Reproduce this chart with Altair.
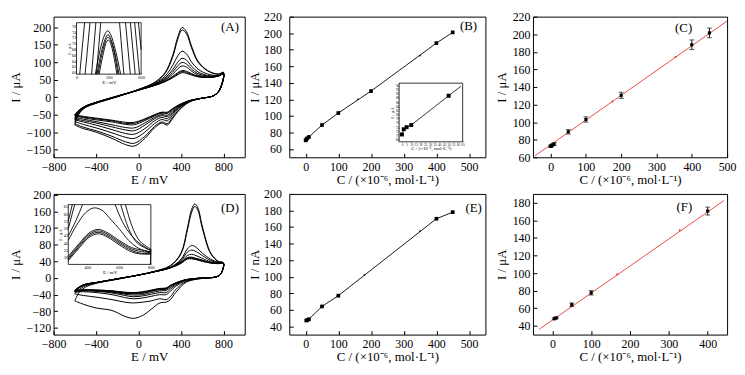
import altair as alt
import pandas as pd

FONT = "Liberation Serif, Times New Roman, serif"
RED = "#e23b35"

# ---------------- Panel A : cyclic voltammograms ----------------
EF_A = [-600, -560, -500, -400, -200, 0, 150, 250, 320, 370, 410, 450, 500, 560, 650, 750, 800]
ER_A = [800, 760, 700, 600, 480, 380, 320, 270, 220, 150, 60, -40, -120, -250, -400, -520, -600]
IF_A = [
    [-50, -37, -26, -15, 3, 20, 33, 44, 55, 64, 70, 68, 63, 58, 56, 60, 66],
    [-52, -37, -26, -15, 3, 20, 33, 45, 57, 67, 73, 71, 65, 59, 56, 60, 66],
    [-54, -38, -26, -15, 3, 20, 34, 46, 59, 70, 76, 74, 67, 60, 57, 60, 66],
    [-58, -40, -26, -15, 2, 20, 35, 49, 65, 81, 89, 86, 74, 63, 58, 60, 66],
    [-62, -41, -27, -16, 2, 20, 36, 52, 71, 90, 99, 95, 80, 67, 60, 61, 67],
    [-65, -42, -27, -16, 2, 21, 37, 55, 78, 100, 111, 106, 88, 72, 62, 61, 67],
    [-70, -44, -28, -16, 2, 21, 39, 60, 90, 118, 131, 124, 100, 80, 66, 62, 68],
    [-76, -46, -29, -17, 1, 22, 41, 68, 113, 166, 192, 182, 140, 100, 75, 65, 70],
    [-80, -48, -30, -18, 1, 22, 42, 70, 118, 172, 199, 188, 145, 103, 76, 66, 71],
]
IR_A = [
    [66, 18, 3, -3, -10, -22, -33, -43, -43, -50, -62, -72, -72, -66, -60, -55, -50],
    [66, 18, 3, -3, -10, -23, -34, -45, -44, -52, -64, -75, -75, -68, -62, -57, -52],
    [66, 18, 3, -3, -10, -24, -36, -47, -46, -54, -67, -79, -78, -71, -65, -59, -54],
    [66, 18, 3, -3, -11, -26, -40, -52, -50, -58, -74, -88, -87, -79, -70, -63, -58],
    [67, 18, 3, -3, -11, -28, -43, -56, -53, -62, -80, -96, -94, -85, -74, -67, -62],
    [67, 19, 3, -3, -12, -30, -47, -62, -58, -68, -90, -106, -104, -93, -80, -71, -65],
    [68, 19, 3, -3, -12, -32, -52, -68, -64, -76, -100, -118, -115, -102, -88, -78, -70],
    [70, 20, 3, -3, -13, -36, -58, -76, -71, -84, -112, -132, -128, -112, -96, -86, -76],
    [71, 20, 3, -3, -14, -38, -62, -80, -74, -88, -118, -140, -136, -118, -100, -90, -80],
]
# inset of A : line segments (E, I)
INS_A_E = [[30, 75], [80, 125], [140, 180], [185, 225],
           [175, 220, 260, 290, 320, 360, 410],
           [190, 230, 265, 292, 320, 355, 395],
           [200, 240, 270, 293, 318, 350, 385],
           [210, 245, 272, 295, 318, 345, 375],
           [400, 440], [455, 500], [500, 545], [540, 585], [575, 600]]
INS_A_I = [[59.5, 77.3], [59.5, 77.3], [59.5, 77.3], [59.5, 77.3],
           [59.5, 68, 73, 74.5, 73, 68, 59.5],
           [59.5, 67, 71.5, 73.2, 71.5, 67, 59.5],
           [59.5, 67, 71, 72.3, 71, 67, 59.5],
           [59.5, 66, 70, 71.3, 70, 66, 59.5],
           [77.3, 59.5], [77.3, 59.5], [77.3, 59.5], [77.3, 59.5], [77.3, 68]]

# ---------------- Panel D : cyclic voltammograms ----------------
EF_D = [-600, -560, -500, -400, -200, 0, 150, 300, 400, 460, 500, 530, 560, 600, 680, 750, 800]
ER_D = [800, 770, 720, 600, 450, 350, 300, 260, 200, 120, 40, -50, -130, -250, -400, -520, -600]
IF_D = [
    [-30, -22, -15, -11, -2, 7, 15, 24, 35, 45.5, 46, 45, 43, 40, 36, 34.5, 35],
    [-30, -22, -15, -11, -2, 7, 15, 25, 36, 46.5, 47, 45.5, 44, 41, 36, 34.5, 35],
    [-31, -22, -15, -11, -2, 7, 15, 25, 37, 48, 48.5, 47, 45, 42, 37, 35, 35],
    [-31, -22, -15, -11, -2, 7, 15, 25, 38, 49, 50, 48, 46, 43, 37, 35, 35],
    [-32, -23, -16, -11, -2, 7, 15, 25, 40, 54, 57, 55, 52, 47, 39, 36, 35],
    [-33, -23, -16, -11, -2, 7, 15, 25, 42, 62, 67, 65, 61, 54, 42, 37, 35],
    [-34, -24, -16, -11, -2, 7, 15, 26, 45, 70, 78, 76, 70, 60, 45, 38, 36],
    [-38, -28, -19, -12, -3, 7, 16, 29, 58, 115, 158, 172, 162, 120, 58, 40, 36],
    [-55, -35, -22, -13, -3, 7, 16, 30, 60, 120, 165, 178, 168, 125, 60, 40, 36],
]
IR_D = [
    [35, 8, 2, 0, -4, -12, -18, -24, -25, -29, -33, -35, -34, -31, -29, -29, -30],
    [35, 8, 2, 0, -4, -12, -18, -25, -26, -30, -34, -36, -35, -31, -29, -29, -30],
    [35, 8, 2, 0, -4, -12, -19, -26, -27, -31, -35, -37, -36, -32, -30, -29, -31],
    [35, 8, 2, 0, -4, -13, -20, -27, -28, -32, -37, -38, -37, -33, -30, -29, -31],
    [35, 8, 2, 0, -5, -15, -23, -30, -31, -35, -40, -41, -39, -34, -31, -30, -32],
    [35, 8, 2, 0, -5, -17, -27, -35, -35, -39, -43, -45, -42, -36, -32, -31, -33],
    [36, 8, 2, 0, -6, -20, -32, -40, -40, -44, -48, -50, -47, -40, -35, -33, -34],
    [36, 8, 2, -1, -8, -28, -45, -52, -50, -55, -58, -60, -58, -52, -46, -42, -38],
    [36, 8, 2, -1, -10, -35, -52, -58, -60, -75, -90, -97, -92, -78, -72, -63, -55],
]
INS_D_E = [[280, 330, 390, 446, 500, 550, 600, 660, 724, 800],
           [280, 320], [280, 305], [280, 330, 370],
           [575, 620, 680, 740, 800], [610, 660, 700, 760, 800], [640, 680, 720, 770, 800],
           [280, 350, 410, 470, 530, 600, 680, 760, 800],
           [280, 350, 410, 470, 530, 600, 680, 760, 800],
           [280, 350, 410, 470, 530, 600, 680, 760, 800],
           [280, 350, 410, 470, 530, 600, 680, 760, 800],
           [797, 800]]
INS_D_I = [[42, 52, 61, 64.3, 62, 56, 50, 42, 36.5, 34],
           [50, 66.5], [55, 66.5], [45, 56, 66.5],
           [66.5, 55, 45, 39, 35], [66.5, 50, 42, 37, 35], [66.5, 52, 43, 38, 36],
           [31, 40, 47, 49.5, 47, 42, 37, 35, 34],
           [30, 39, 46, 48.5, 46, 41, 36, 34, 33.5],
           [29, 38, 45, 47.5, 45, 40, 35, 33, 33],
           [28, 37, 44, 46.5, 44, 39, 34, 32.5, 32.5],
           [25.5, 36]]

# ---------------- Panels B, C (calibration, sample 1) ----------------
C_B = [0, 2, 5, 10, 50, 100, 200, 400, 450]
I_B = [70.5, 71.5, 73, 74.5, 89, 103.5, 130, 188, 201]
DOT_B_C = [160, 350]
DOT_B_I = [120, 173]
INS_B_C = [0, 2, 5, 10, 50]
INS_B_I = [70.5, 73, 74, 75, 89]
INS_B_LINE_C = [0, 2, 5, 10, 50, 63]
INS_B_LINE_I = [70.5, 73, 74, 75, 89, 93.5]

C_C = [0, 2, 5, 10, 50, 100, 200, 400, 450]
I_C = [72.5, 73, 74, 75, 89, 103, 130.5, 188, 201.5]
ERR_C = [1.2, 1, 1, 1.5, 2.5, 3, 3.5, 5.5, 5.5]
FIT_C_X = [-45, 500]
FIT_C_Y = [61.5, 215]
DOT_C_X = [175, 354]
DOT_C_Y = [123.5, 174]

# ---------------- Panels E, F (calibration, sample 2) ----------------
C_E = [2, 5, 10, 50, 100, 400, 450]
I_E = [47, 47.5, 48.5, 64, 77, 170, 178]
DOT_E_C = [180, 350]
DOT_E_I = [102, 155]

C_F = [5, 10, 50, 100, 400]
I_F = [48, 49, 64, 77.5, 170.5]
ERR_F = [1, 1, 2, 2.5, 4.5]
FIT_F_X = [-34, 442]
FIT_F_Y = [36, 182.5]
DOT_F_X = [167, 328]
DOT_F_Y = [98.7, 148.8]

CTITLE = "C / (×10⁻⁶, mol·L⁻¹)"

# ---------------- layout constants ----------------
W1, W2, W3 = 193, 198, 196
H = 142


def cv_df(EF, ER, IF, IR):
    rows = []
    for c in range(len(IF)):
        k = 0
        for e, i in zip(EF, IF[c]):
            rows.append(dict(curve=c, k=k, E=e, I=i))
            k += 1
        for e, i in zip(ER[1:], IR[c][1:]):
            rows.append(dict(curve=c, k=k, E=e, I=i))
            k += 1
    return pd.DataFrame(rows)


def seg_df(EE, II):
    rows = []
    for s, (es, is_) in enumerate(zip(EE, II)):
        for e, i in zip(es, is_):
            rows.append(dict(seg=s, E=e, I=i))
    return pd.DataFrame(rows)


def main_axis(values, title, lpad, tpad):
    return alt.Axis(values=values, title=title, offset=-4, tickSize=4, domain=False, grid=False,
                    labelPadding=lpad, titlePadding=tpad, labelFlush=False, labelOverlap=False,
                    labelFont=FONT, titleFont=FONT, labelFontSize=12, titleFontSize=13,
                    titleFontWeight="normal", labelColor="black", titleColor="black",
                    tickColor="black", tickWidth=1)


def tag(s, fx, fy, W):
    return alt.Chart(pd.DataFrame({"t": [s]})).mark_text(
        font=FONT, fontSize=13, align="center", baseline="middle", color="black"
    ).encode(text="t:N", x=alt.value(fx * W), y=alt.value(fy * H))


def inset_scales(xdom, ydom, fx, fy, W, xvals, yvals, xtitle, ytitle, lfs=4.5):
    xs = alt.Scale(domain=xdom, range=[fx[0] * W, fx[1] * W], nice=False, zero=False)
    ys = alt.Scale(domain=ydom, range=[fy[1] * H, fy[0] * H], nice=False, zero=False)
    common = dict(domain=False, grid=False, tickSize=1.5, labelPadding=0.5, titlePadding=0.5,
                  labelFlush=False, labelOverlap=False, labelFont=FONT, titleFont=FONT,
                  labelFontSize=lfs, titleFontSize=5, titleFontWeight="normal",
                  labelColor="black", titleColor="black", tickColor="black", tickWidth=0.5)
    xa = alt.Axis(orient="bottom", offset=-(H - fy[1] * H) - 1.5, values=xvals, title=xtitle, **common)
    ya = alt.Axis(orient="left", offset=-(fx[0] * W) - 1.5, values=yvals, title=ytitle, **common)
    X = alt.X("E:Q", scale=xs, axis=xa)
    Y = alt.Y("I:Q", scale=ys, axis=ya)
    box_df = pd.DataFrame({"E": [xdom[0]], "E2": [xdom[1]], "I": [ydom[0]], "I2": [ydom[1]]})
    box = alt.Chart(box_df).mark_rect(fill="white", stroke="black", strokeWidth=0.8).encode(
        x=X, x2="E2:Q", y=Y, y2="I2:Q")
    return X, Y, box


def cv_panel(EF, ER, IF, IR, ydom, yvals, label, lab_pos, W, ins_E, ins_I, ins_dom, ins_f, ins_vals, inset_ytitle):
    X = alt.X("E:Q", scale=alt.Scale(domain=[-800, 1000], nice=False, zero=False),
              axis=main_axis([-800, -400, 0, 400, 800], "E / mV", 4, 1))
    Y = alt.Y("I:Q", scale=alt.Scale(domain=ydom, nice=False, zero=False),
              axis=main_axis(yvals, "I / μA", 3, 4))
    cv = alt.Chart(cv_df(EF, ER, IF, IR)).mark_line(
        color="black", strokeWidth=1.0, interpolate="catmull-rom"
    ).encode(x=X, y=Y, detail="curve:N", order="k:Q")
    main = alt.layer(cv, tag(label, lab_pos[0], lab_pos[1], W))
    iX, iY, box = inset_scales(ins_dom[0], ins_dom[1], ins_f[0], ins_f[1], W,
                               ins_vals[0], ins_vals[1], "E / mV", inset_ytitle)
    lines = alt.Chart(seg_df(ins_E, ins_I)).mark_line(
        color="black", strokeWidth=0.9, interpolate="monotone"
    ).encode(x=iX, y=iY, detail="seg:N")
    ins = alt.layer(box, lines)
    return alt.layer(main, ins).resolve_scale(x="independent", y="independent").properties(width=W, height=H)


def line_panel(Cs, Is, dotC, dotI, xdom, xvals, ydom, yvals, ytitle, label, lab_pos, W, lpad, tpad):
    X = alt.X("C:Q", scale=alt.Scale(domain=xdom, nice=False, zero=False),
              axis=main_axis(xvals, CTITLE, 4, 1))
    Y = alt.Y("I:Q", scale=alt.Scale(domain=ydom, nice=False, zero=False),
              axis=main_axis(yvals, ytitle, lpad, tpad))
    df = pd.DataFrame({"C": Cs, "I": Is})
    ln = alt.Chart(df).mark_line(color="black", strokeWidth=0.9).encode(x=X, y=Y)
    pts = alt.Chart(df).mark_square(color="black", size=14, opacity=1).encode(x=X, y=Y)
    dots = alt.Chart(pd.DataFrame({"C": dotC, "I": dotI})).mark_circle(
        color="black", size=3, opacity=1).encode(x=X, y=Y)
    return alt.layer(ln, dots, pts, tag(label, lab_pos[0], lab_pos[1], W))


def fit_panel(Cs, Is, errs, fx, fy, dx, dy, xdom, xvals, ydom, yvals, label, lab_pos, W, lpad, tpad):
    X = alt.X("C:Q", scale=alt.Scale(domain=xdom, nice=False, zero=False),
              axis=main_axis(xvals, CTITLE, 4, 1))
    ysc = alt.Scale(domain=ydom, nice=False, zero=False)
    yax = main_axis(yvals, "I / μA", lpad, tpad)
    Y = alt.Y("I:Q", scale=ysc, axis=yax)
    df = pd.DataFrame({"C": Cs, "I": Is, "err": errs})
    df["lo"] = df["I"] - df["err"]
    df["hi"] = df["I"] + df["err"]
    fit = alt.Chart(pd.DataFrame({"C": fx, "I": fy})).mark_line(color=RED, strokeWidth=0.9).encode(x=X, y=Y)
    rdots = alt.Chart(pd.DataFrame({"C": dx, "I": dy})).mark_circle(color=RED, size=4, opacity=1).encode(x=X, y=Y)
    rule = alt.Chart(df).mark_rule(color="black", strokeWidth=0.9).encode(
        x=X, y=alt.Y("lo:Q", scale=ysc, axis=yax), y2="hi:Q")
    cap_lo = alt.Chart(df).mark_tick(color="black", orient="horizontal", size=5, thickness=0.9).encode(
        x=X, y=alt.Y("lo:Q", scale=ysc, axis=yax))
    cap_hi = alt.Chart(df).mark_tick(color="black", orient="horizontal", size=5, thickness=0.9).encode(
        x=X, y=alt.Y("hi:Q", scale=ysc, axis=yax))
    pts = alt.Chart(df).mark_square(color="black", size=10, opacity=1).encode(x=X, y=Y)
    return alt.layer(fit, rdots, rule, cap_lo, cap_hi, pts, tag(label, lab_pos[0], lab_pos[1], W)).properties(
        width=W, height=H)


# ---- Panel A
A = cv_panel(EF_A, ER_A, IF_A, IR_A, [-172, 230], [-150, -100, -50, 0, 50, 100, 150, 200],
             "(A)", (0.923, 0.075), W1, INS_A_E, INS_A_I, ([0, 600], [59.5, 77.3]),
             ((0.12, 0.458), (0.043, 0.409)), ([0, 300, 600], [60, 62, 64, 66, 68, 70, 72, 74, 76]),
             "I / μA")

# ---- Panel B (with inset)
Bmain = line_panel(C_B, I_B, DOT_B_C, DOT_B_I, [-50, 550], [0, 100, 200, 300, 400, 500],
                   [50, 220], [60, 80, 100, 120, 140, 160, 180, 200, 220], "I / μA",
                   "(B)", (0.914, 0.068), W2, 8, 2)
bX, bY, bbox = inset_scales([-3, 65], [67, 95], (0.56, 0.884), (0.473, 0.89), W2,
                            [0, 5, 10, 15, 20, 25, 30, 35, 40, 45, 50, 55, 60, 65],
                            [68, 70, 72, 74, 76, 78, 80, 82, 84, 86, 88, 90, 92, 94],
                            CTITLE, "I / μA", lfs=3.2)
bline = alt.Chart(pd.DataFrame({"E": INS_B_LINE_C, "I": INS_B_LINE_I})).mark_line(
    color="black", strokeWidth=0.8).encode(x=bX, y=bY)
bpts = alt.Chart(pd.DataFrame({"E": INS_B_C, "I": INS_B_I})).mark_square(
    color="black", size=16, opacity=1).encode(x=bX, y=bY)
B = alt.layer(Bmain, alt.layer(bbox, bline, bpts)).resolve_scale(
    x="independent", y="independent").properties(width=W2, height=H)

# ---- Panel C
C = fit_panel(C_C, I_C, ERR_C, FIT_C_X, FIT_C_Y, DOT_C_X, DOT_C_Y, [-50, 500],
              [0, 100, 200, 300, 400, 500], [60, 220], [60, 80, 100, 120, 140, 160, 180, 200, 220],
              "(C)", (0.776, 0.082), W3, 3, 4)

# ---- Panel D
D = cv_panel(EF_D, ER_D, IF_D, IR_D, [-136, 202], [-120, -80, -40, 0, 40, 80, 120, 160, 200],
             "(D)", (0.923, 0.097), W1, INS_D_E, INS_D_I, ([280, 800], [25.5, 66.5]),
             ((0.077, 0.509), (0.076, 0.501)), ([400, 600, 800], [30, 35, 40, 45, 50, 55, 60, 65]),
             "I / μA")

# ---- Panel E
E = line_panel(C_E, I_E, DOT_E_C, DOT_E_I, [-50, 550], [0, 100, 200, 300, 400, 500],
               [30, 200], [40, 60, 80, 100, 120, 140, 160, 180, 200], "I / nA",
               "(E)", (0.94, 0.097), W2, 8, 2).properties(width=W2, height=H)

# ---- Panel F
F = fit_panel(C_F, I_F, ERR_F, FIT_F_X, FIT_F_Y, DOT_F_X, DOT_F_Y, [-50, 450],
              [0, 100, 200, 300, 400], [30, 190], [40, 60, 80, 100, 120, 140, 160, 180],
              "(F)", (0.78, 0.09), W3, 3, 4)

row1 = alt.hconcat(alt.hconcat(A, B, spacing=2), C, spacing=8)
row2 = alt.hconcat(alt.hconcat(D, E, spacing=2), F, spacing=8)

chart = alt.vconcat(row1, row2, spacing=0).properties(
    padding=0, background="white"
).configure_view(stroke="black", strokeWidth=1).configure_concat(spacing=0)

chart.save("out.html", embed_options={"renderer": "svg", "actions": False})
